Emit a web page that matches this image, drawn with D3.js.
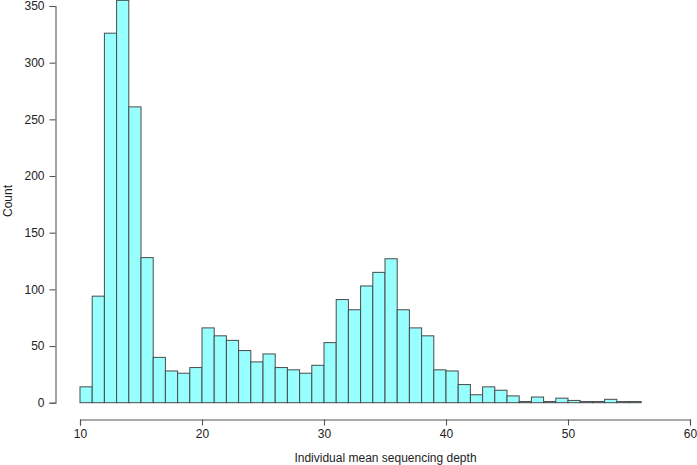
<!DOCTYPE html>
<html>
<head>
<meta charset="utf-8">
<script src="https://cdn.jsdelivr.net/npm/d3@7"></script>
<style>
  html, body { margin: 0; padding: 0; background: #fff; }
  svg text { font-family: "Liberation Sans", Arial, sans-serif; }
</style>
</head>
<body>
<svg id="chart" width="697" height="465"></svg>
<script>
// Histogram bins: each bin starts at binStarts[i] and has width 1
const binStarts = [10,11,12,13,14,15,16,17,18,19,20,21,22,23,24,25,26,27,28,29,30,31,32,33,34,35,36,37,38,39,40,41,42,43,44,45,46,47,48,49,50,51,52,53,54,55];
const counts    = [14,94,326,355,261,128,40,28,26,31,66,59,55,46,36,43,31,29,26,33,53,91,82,103,115,127,82,66,59,29,28,16,7,14,11,6,1,5,1,4,2,1,1,3,1,1];
const xTicks = [10,20,30,40,50,60];
const yTicks = [0,50,100,150,200,250,300,350];
const xTitle = "Individual mean sequencing depth";
const yTitle = "Count";

const svg = d3.select("#chart");
const x = d3.scaleLinear().domain([10, 60]).range([80, 690]);
const y = d3.scaleLinear().domain([0, 350]).range([402.7, 6]);

// bars
svg.append("g").selectAll("rect")
  .data(binStarts.map((s, i) => ({ s, c: counts[i] })))
  .join("rect")
  .attr("x", d => x(d.s))
  .attr("width", d => x(d.s + 1) - x(d.s))
  .attr("y", d => y(d.c))
  .attr("height", d => y(0) - y(d.c))
  .attr("fill", "#98FFFF")
  .attr("stroke", "#4a4a4a")
  .attr("stroke-width", 1);

// x axis
const gx = svg.append("g").attr("transform", "translate(0,419.5)")
  .call(d3.axisBottom(x).tickValues(xTicks).tickSizeOuter(0).tickSize(6).tickPadding(4).tickFormat(d3.format("d")));
// y axis
const gy = svg.append("g").attr("transform", "translate(55.5,0)")
  .call(d3.axisLeft(y).tickValues(yTicks).tickSizeOuter(0).tickSize(6).tickPadding(5).tickFormat(d3.format("d")));

[gx, gy].forEach(g => {
  g.select(".domain").attr("stroke", "#555").attr("stroke-width", 1.1);
  g.selectAll(".tick line").attr("stroke", "#555").attr("stroke-width", 1.1);
  g.selectAll(".tick text").attr("fill", "#222").style("font-size", "12px")
    .style("font-family", "'Liberation Sans', Arial, sans-serif");
});

svg.append("text")
  .attr("x", 385.5).attr("y", 462)
  .attr("text-anchor", "middle")
  .attr("fill", "#222")
  .style("font-size", "12px")
  .text(xTitle);

svg.append("text")
  .attr("transform", "translate(12,201) rotate(-90)")
  .attr("text-anchor", "middle")
  .attr("fill", "#222")
  .style("font-size", "12px")
  .text(yTitle);
</script>
</body>
</html>
